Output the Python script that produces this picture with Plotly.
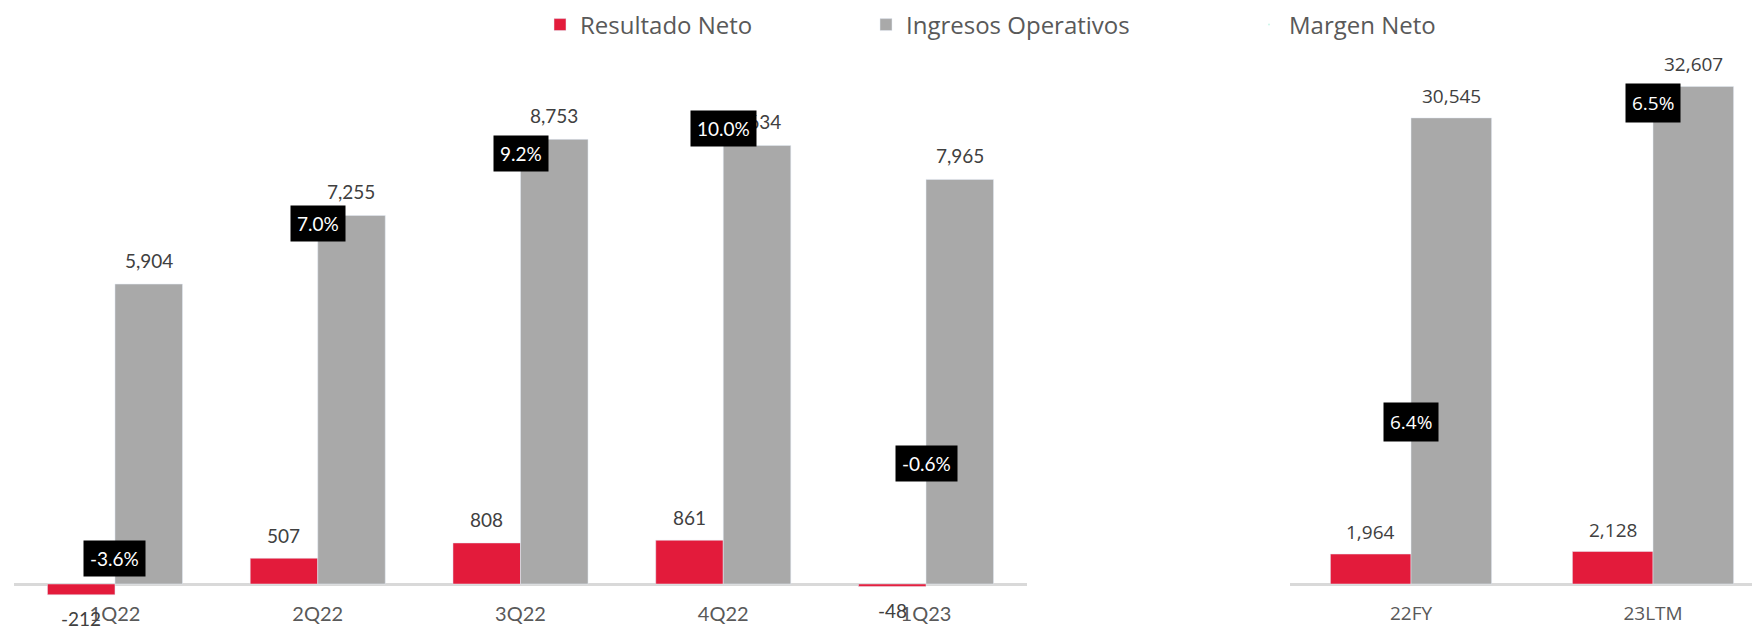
import plotly.graph_objects as go

# ---- data ----
quarters = ["1Q22", "2Q22", "3Q22", "4Q22", "1Q23"]
resultado_q = [-212, 507, 808, 861, -48]
ingresos_q = [5904, 7255, 8753, 8634, 7965]
margen_q = [-3.6, 7.0, 9.2, 10.0, -0.6]

periods = ["22FY", "23LTM"]
resultado_p = [1964, 2128]
ingresos_p = [30545, 32607]
margen_p = [6.4, 6.5]

RED = "#E31B3B"
GRAY = "#A9A9A9"
AXIS = "#D9D9D9"
LBL = "#404040"
CAT = "#595959"
F_L = "Lato, Liberation Sans, sans-serif"
F_R = "Open Sans, DejaVu Sans, sans-serif"

# the page body keeps its default 8px margin, so the figure is 16px smaller
OFF = 8
W, H = 1760 - 2 * OFF, 640 - 2 * OFF
TOP, BOT = 40 - OFF, 600 - OFF   # plot area rows inside the figure

fig = go.Figure()

# left panel
fig.add_trace(go.Bar(x=quarters, y=resultado_q, name="Resultado Neto", marker_color=RED,
                     xaxis="x", yaxis="y", legend="legend", legendgroup="r"))
fig.add_trace(go.Bar(x=quarters, y=ingresos_q, name="Ingresos Operativos", marker_color=GRAY,
                     xaxis="x", yaxis="y", legend="legend2", legendgroup="i"))
fig.add_trace(go.Scatter(x=quarters, y=margen_q, name="Margen Neto", mode="markers",
                         marker=dict(opacity=0, size=1), xaxis="x", yaxis="y2",
                         legend="legend3", legendgroup="m", hoverinfo="skip"))
# right panel
fig.add_trace(go.Bar(x=periods, y=resultado_p, name="Resultado Neto", marker_color=RED,
                     xaxis="x2", yaxis="y3", showlegend=False, legendgroup="r"))
fig.add_trace(go.Bar(x=periods, y=ingresos_p, name="Ingresos Operativos", marker_color=GRAY,
                     xaxis="x2", yaxis="y3", showlegend=False, legendgroup="i"))
fig.add_trace(go.Scatter(x=periods, y=margen_p, name="Margen Neto", mode="markers",
                         marker=dict(opacity=0, size=1), xaxis="x2", yaxis="y4",
                         showlegend=False, legendgroup="m", hoverinfo="skip"))

ann = []
def val_labels(cats, vals, xref, yref, dx, font, up, down):
    for c, v in zip(cats, vals):
        ann.append(dict(x=c, y=v, xref=xref, yref=yref, text=f"{v:,}", showarrow=False,
                        xshift=dx, yshift=(up if v >= 0 else down), yanchor="middle",
                        font=dict(family=font, size=19, color=LBL)))

val_labels(quarters, resultado_q, "x", "y", -33.75, F_L, 23, -24)
val_labels(quarters, ingresos_q, "x", "y", 33.75, F_L, 24, -24)
val_labels(periods, resultado_p, "x2", "y3", -40.5, F_R, 22, -24)
val_labels(periods, ingresos_p, "x2", "y3", 40.5, F_R, 22, -24)

for c, m in zip(quarters, margen_q):
    ann.append(dict(x=c, y=m, xref="x", yref="y2", text=f"{m:.1f}%", showarrow=False,
                    bgcolor="#000000", borderpad=6, yanchor="middle",
                    font=dict(family=F_L, size=19, color="#FFFFFF")))
for c, m in zip(periods, margen_p):
    ann.append(dict(x=c, y=m, xref="x2", yref="y4", text=f"{m:.1f}%", showarrow=False,
                    bgcolor="#000000", borderpad=6, yanchor="middle",
                    font=dict(family=F_R, size=19, color="#FFFFFF")))

PH = BOT - TOP
leg = dict(orientation="h", yanchor="middle", y=1 + (TOP - (25 - OFF)) / PH, xanchor="left",
           font=dict(family=F_R, size=24, color=CAT), bgcolor="rgba(0,0,0,0)")

def px(x):  # page x -> paper fraction
    return (x - OFF) / W

fig.update_layout(
    width=W, height=H, margin=dict(l=0, r=0, t=TOP, b=H - BOT, autoexpand=False),
    paper_bgcolor="white", plot_bgcolor="white",
    barmode="group", bargap=0.334, bargroupgap=0,
    showlegend=True,
    legend=dict(leg, x=px(582 - 42)),
    legend2=dict(leg, x=px(908 - 42)),
    legend3=dict(leg, x=px(1291 - 42)),
    xaxis=dict(domain=[px(13.6), px(1027.4)], anchor="y", type="category",
               showline=False, showgrid=False, ticks="",
               tickfont=dict(family=F_L, size=20, color=CAT)),
    yaxis=dict(range=[-315, 10709], showgrid=False, showticklabels=False, ticks="",
               zeroline=True, zerolinecolor=AXIS, zerolinewidth=2.5),
    yaxis2=dict(overlaying="y", range=[-4.90, 12.78], visible=False),
    xaxis2=dict(domain=[px(1290), 1.0], anchor="y3", type="category",
                range=[-0.5, (1760 - OFF - 1411) / 242],
                showline=False, showgrid=False, ticks="",
                tickfont=dict(family=F_R, size=19, color=CAT)),
    yaxis3=dict(anchor="x2", range=[-1048, 35649], showgrid=False, showticklabels=False,
                ticks="", zeroline=True, zerolinecolor=AXIS, zerolinewidth=2.5),
    yaxis4=dict(overlaying="y3", anchor="x2", range=[6.3444, 6.5197], visible=False),
    annotations=ann,
)

fig.write_html("out.html")
